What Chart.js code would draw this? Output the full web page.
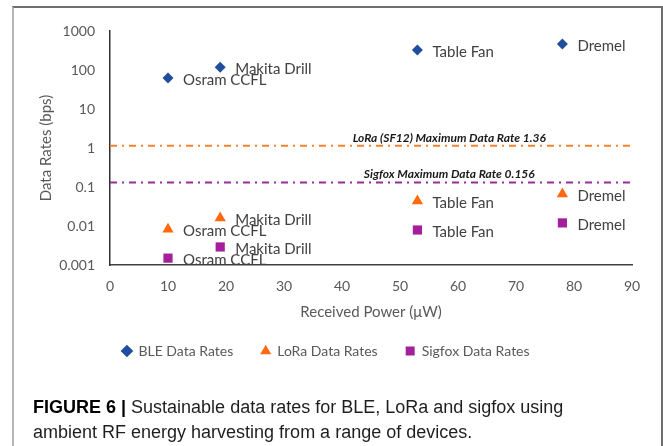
<!DOCTYPE html>
<html>
<head>
<meta charset="UTF-8">
<title>Figure 6 - Sustainable data rates</title>
<script src="https://cdn.jsdelivr.net/npm/chart.js@4.4.1/dist/chart.umd.min.js"></script>
<style>
  body { margin: 0; background: #fff; }
  #wrap { position: relative; width: 663px; height: 446px; overflow: hidden; }
  #frame { position: absolute; left: 12px; top: 6px; width: 647px; height: 460px;
           border-left: 2px solid #b5b5b5; border-top: 2px solid #6e6e6e; border-right: 2px solid #6e6e6e; }
  #chart { position: absolute; left: 0; top: 0; }
  #caption { position: absolute; left: 33px; top: 395px; font-family: "Liberation Sans", Arial, sans-serif;
             font-size: 18px; line-height: 25px; color: #1e1e1e; }
  #caption b { color: #000; }
</style>
</head>
<body>
<div id="wrap">
  <div id="frame"></div>
  <canvas id="chart" width="663" height="446"></canvas>
  <div id="caption"><b>FIGURE 6 |</b> Sustainable data rates for BLE, LoRa and sigfox using<br>ambient RF energy harvesting from a range of devices.</div>
</div>
<script>
// data
const devices = ['Osram CCFL', 'Makita Drill', 'Table Fan', 'Dremel'];
const receivedPower = [10, 19, 53, 78];          // µW
const bleRates = [62, 117, 324, 462];            // bps
const loraRates = [0.0083, 0.016, 0.044, 0.066];
const sigfoxRates = [0.0015, 0.0029, 0.0079, 0.012];
const yTicks = [0.001, 0.01, 0.1, 1, 10, 100, 1000];
const limitNames = ['LoRa (SF12) Maximum Data Rate 1.36', 'Sigfox Maximum Data Rate 0.156'];
const limitValues = [1.15, 0.13];
const xRange = [0, 90];

function pts(ys) {
  return receivedPower.map(function (x, i) { return { x: x, y: ys[i] }; });
}
function hline(v) {
  return [{ x: xRange[0], y: v }, { x: xRange[1], y: v }];
}

// names next to markers + text above the limit lines
const pointLabels = {
  id: 'pointLabels',
  afterDatasetsDraw: function (chart) {
    var ctx = chart.ctx;
    ctx.save();
    ctx.font = '15px Lato';
    ctx.fillStyle = '#404040';
    ctx.textBaseline = 'middle';
    chart.data.datasets.forEach(function (ds, i) {
      if (!ds.names) return;
      chart.getDatasetMeta(i).data.forEach(function (pt, j) {
        ctx.fillText(ds.names[j], pt.x + 15, pt.y + 2);
      });
    });
    ctx.font = 'italic bold 12px Lato';
    ctx.fillStyle = '#1a1a1a';
    ctx.textAlign = 'center';
    var xs = chart.scales.x, ys = chart.scales.y;
    limitValues.forEach(function (v, i) {
      ctx.fillText(limitNames[i], xs.getPixelForValue(58.5), ys.getPixelForValue(v) - 8);
    });
    ctx.restore();
  }
};

var config = {
  type: 'scatter',
  data: {
    datasets: [
      { label: 'BLE Data Rates', data: pts(bleRates), names: devices, order: 1,
        pointStyle: 'rectRot', pointRadius: 5.5, backgroundColor: '#1f4e9c', borderColor: '#1f4e9c', borderWidth: 0 },
      { label: 'LoRa Data Rates', data: pts(loraRates), names: devices, order: 1,
        pointStyle: 'triangle', pointRadius: 6.5, backgroundColor: '#ff6a0e', borderColor: '#ff6a0e', borderWidth: 0 },
      { label: 'Sigfox Data Rates', data: pts(sigfoxRates), names: devices, order: 1,
        pointStyle: 'rect', pointRadius: 6.5, backgroundColor: '#a41f9c', borderColor: '#a41f9c', borderWidth: 0 },
      { type: 'line', label: 'lora-limit', data: hline(limitValues[0]), order: 2,
        borderColor: '#f5822e', borderWidth: 2, borderDash: [7, 5, 2, 5], pointRadius: 0, fill: false },
      { type: 'line', label: 'sigfox-limit', data: hline(limitValues[1]), order: 2,
        borderColor: '#9c2a98', borderWidth: 2, borderDash: [7, 5, 2, 5], pointRadius: 0, fill: false }
    ]
  },
  options: {
    responsive: false,
    animation: false,
    layout: { padding: { left: 20, right: 31, top: 31, bottom: 78 } },
    plugins: {
      tooltip: { enabled: false },
      legend: {
        position: 'bottom',
        labels: {
          usePointStyle: true, boxWidth: 9, boxHeight: 9, padding: 28,
          color: '#595959', font: { family: 'Lato', size: 14 },
          filter: function (item) { return item.text.indexOf('limit') < 0; }
        }
      }
    },
    scales: {
      x: {
        type: 'linear', min: xRange[0], max: xRange[1],
        grid: { display: false, drawTicks: false },
        border: { display: true, color: '#404040', width: 1.5 },
        ticks: { stepSize: 10, padding: 13, color: '#595959', font: { family: 'Lato', size: 14 } },
        title: { display: true, text: 'Received Power (\u03bcW)', color: '#595959',
                 font: { family: 'Lato', size: 15 }, padding: { top: 4, bottom: -5 } },
        afterFit: function (s) { s.height = 51; }
      },
      y: {
        type: 'logarithmic', min: yTicks[0], max: yTicks[yTicks.length - 1],
        grid: { display: false, drawTicks: false },
        border: { display: true, color: '#303030', width: 1.5 },
        afterBuildTicks: function (s) { s.ticks = yTicks.map(function (v) { return { value: v }; }); },
        ticks: { padding: 15, color: '#595959', font: { family: 'Lato', size: 14 },
                 callback: function (v) { return String(v); } },
        title: { display: true, text: 'Data Rates (bps)', color: '#595959',
                 font: { family: 'Lato', size: 15 }, padding: { top: 17, bottom: 0 } },
        afterFit: function (s) { s.width = 90; }
      }
    }
  },
  plugins: [pointLabels]
};

new Chart(document.getElementById('chart').getContext('2d'), config);
</script>
</body>
</html>
